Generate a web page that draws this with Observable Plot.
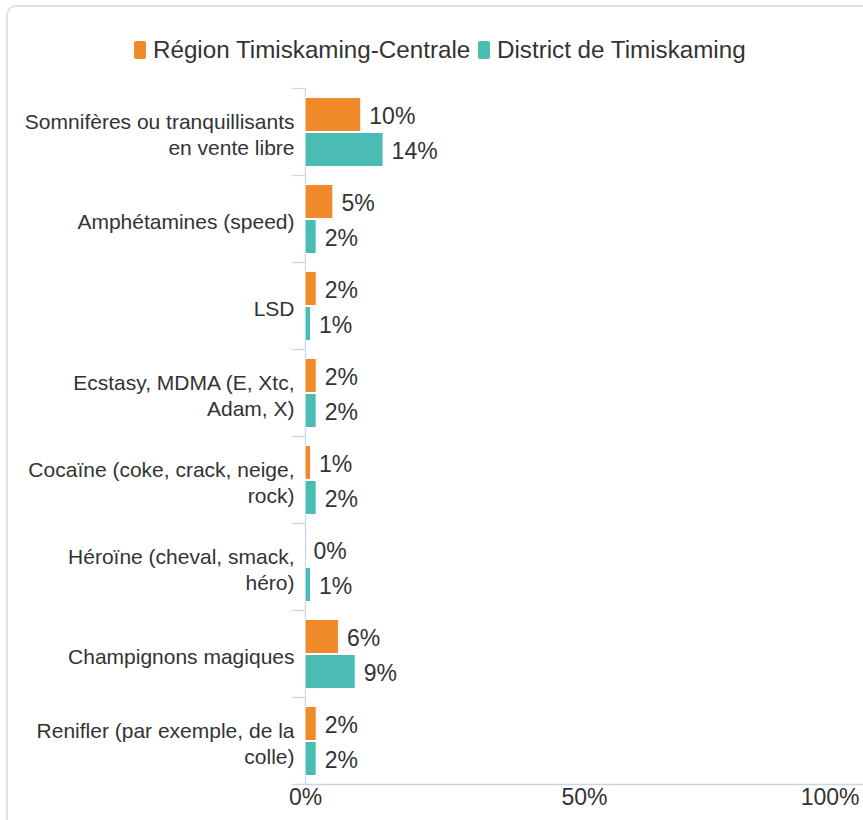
<!DOCTYPE html>
<html>
<head>
<meta charset="utf-8">
<script src="https://cdn.jsdelivr.net/npm/d3@7"></script>
<script src="https://cdn.jsdelivr.net/npm/@observablehq/plot@0.6"></script>
<style>
  html, body { margin: 0; padding: 0; background: #fff; overflow: hidden; width: 863px; height: 820px; }
  body { font-family: "Liberation Sans", Arial, sans-serif; position: relative; }
  #frame { position: absolute; left: 6px; top: 5px; width: 900px; height: 900px;
           border-left: 2px solid #e1e1e1; border-top: 2px solid #e1e1e1; border-top-left-radius: 10px; }
  #legend { position: absolute; left: 0; top: 0; width: 863px; height: 80px; }
  .item { position: absolute; top: 36px; display: flex; align-items: center; font-size: 24.2px; color: #333; white-space: nowrap; line-height: 28px; }
  .sw { width: 12px; height: 18px; border-radius: 2px; margin-right: 7px; }
  #chart { position: absolute; left: 0; top: 80px; }
</style>
</head>
<body>
<div id="frame"></div>
<div id="legend"></div>
<div id="chart"></div>
<script>
const categories = [
  "Somnifères ou tranquillisants\nen vente libre",
  "Amphétamines (speed)",
  "LSD",
  "Ecstasy, MDMA (E, Xtc,\nAdam, X)",
  "Cocaïne (coke, crack, neige,\nrock)",
  "Héroïne (cheval, smack,\nhéro)",
  "Champignons magiques",
  "Renifler (par exemple, de la\ncolle)"
];
const seriesNames = ["Région Timiskaming-Centrale", "District de Timiskaming"];
const regionValues = [10, 5, 2, 2, 1, 0, 6, 2];
const districtValues = [14, 2, 1, 2, 2, 1, 9, 2];
const xTicks = [0, 50, 100];
const xTickLabels = ["0%", "50%", "100%"];
const colors = ["#f0892a", "#4bbcb4"];

// legend
const legend = document.getElementById("legend");
const legendLefts = [134, 478];
seriesNames.forEach((name, i) => {
  const it = document.createElement("div");
  it.className = "item";
  it.style.left = legendLefts[i] + "px";
  const sw = document.createElement("div");
  sw.className = "sw";
  sw.style.background = colors[i];
  it.appendChild(sw);
  const t = document.createElement("span");
  t.textContent = name;
  it.appendChild(t);
  legend.appendChild(it);
});

const regionData = categories.map((c, i) => ({cat: c, v: regionValues[i]}));
const districtData = categories.map((c, i) => ({cat: c, v: districtValues[i]}));
const tickData = xTicks.map((t, i) => ({x: t, label: xTickLabels[i]}));

const axisColor = "#ccd6eb";
const tickLen = 13 * 100 / 558;

const plot = Plot.plot({
  width: 863,
  height: 740,
  marginLeft: 305,
  marginRight: 0,
  marginTop: 8,
  marginBottom: 36,
  style: {fontFamily: "Liberation Sans, Arial, sans-serif", background: "transparent"},
  x: {domain: [0, 100], axis: null},
  y: {domain: categories, axis: null, padding: 0},
  marks: [
    // category boundary ticks
    Plot.ruleY(categories, {y: d => d, x1: -tickLen, x2: 0, dy: -43.5, stroke: axisColor, strokeWidth: 1.3}),
    Plot.ruleY([categories[categories.length - 1]], {y: d => d, x1: -tickLen, x2: 100, dy: 43.5, stroke: axisColor, strokeWidth: 1.3}),
    Plot.ruleX([0], {stroke: axisColor, strokeWidth: 1.3}),
    // bars
    Plot.barX(regionData, {y: "cat", x: "v", fill: colors[0], stroke: "#fff", strokeWidth: 1, insetTop: 9.5, insetBottom: 43.5}),
    Plot.barX(districtData, {y: "cat", x: "v", fill: colors[1], stroke: "#fff", strokeWidth: 1, insetTop: 44.5, insetBottom: 8.5}),
    // value labels
    Plot.text(regionData, {y: "cat", x: "v", text: d => d.v + "%", dx: 8, dy: -15, textAnchor: "start", fontSize: 23, fill: "#333"}),
    Plot.text(districtData, {y: "cat", x: "v", text: d => d.v + "%", dx: 8, dy: 20, textAnchor: "start", fontSize: 23, fill: "#333"}),
    // category labels
    Plot.text(categories, {y: d => d, x: 0, text: d => d, dx: -11, dy: 1.5, textAnchor: "end", fontSize: 21, lineHeight: 1.24, fill: "#333"}),
    // x tick labels
    Plot.text(tickData.filter(d => d.x < 100), {x: "x", text: "label", frameAnchor: "bottom", dy: 20, fontSize: 23, fill: "#333", textAnchor: "middle"}),
    Plot.text(tickData.filter(d => d.x === 100), {x: "x", text: "label", frameAnchor: "bottom", dy: 20, dx: -4, fontSize: 23, fill: "#333", textAnchor: "end"})
  ]
});
document.getElementById("chart").appendChild(plot);
</script>
</body>
</html>
